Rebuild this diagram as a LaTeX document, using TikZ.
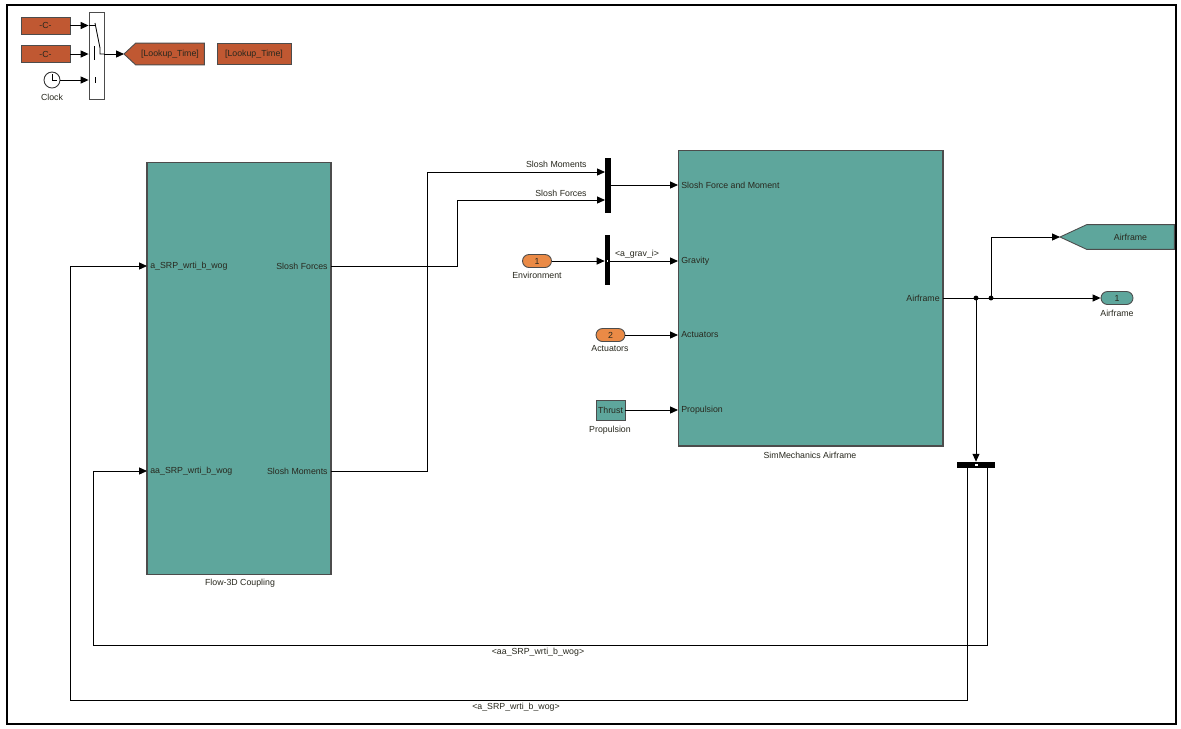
\documentclass[tikz,border=0pt]{standalone}
\usepackage{fontspec}
\setmainfont{Liberation Sans}
\usetikzlibrary{arrows.meta}
\definecolor{tealb}{RGB}{94,166,156}
\definecolor{simorange}{RGB}{192,88,50}
\definecolor{inorange}{RGB}{234,138,70}
\definecolor{txt}{RGB}{40,40,30}
\begin{document}
\begin{tikzpicture}[x=0.02cm,y=-0.02cm,
  every node/.style={font=\fontsize{5}{6}\selectfont, inner sep=0pt, text=txt},
  wire/.style={draw=black, line width=0.5pt},
  arr/.style={wire, -{Triangle[length=4.5pt,width=4pt]}},
  block/.style={draw=black!70, fill=tealb, line width=0.6pt},
  cbox/.style={draw=black!70, fill=simorange, line width=0.5pt},
  oval/.style={draw=black!70, line width=0.5pt, minimum width=0.58cm, minimum height=0.26cm, rounded corners=0.13cm},
  barblk/.style={fill=black},
  lbl/.style={text=txt}]
\useasboundingbox (0,0) rectangle (1181,728);
\fill[white] (0,0) rectangle (1181,728);
\draw[line width=1pt] (7,5) rectangle (1176,724);

% ---- top-left group
\node[cbox, minimum width=0.98cm, minimum height=0.34cm] (c1) at (45.5,25.5) {-C-};
\node[cbox, minimum width=0.98cm, minimum height=0.34cm] (c2) at (45.5,54) {-C-};
\node[draw=black!80, circle, minimum size=0.32cm, fill=white, line width=0.5pt] (clk) at (52,80) {};
\draw[line width=0.5pt] (clk.center) -- (52,74) (clk.center) -- (57,80);
\node[lbl] (clklbl) at (52,97) {Clock};
\node[draw=black!70, fill=white, minimum width=0.3cm, minimum height=1.74cm, line width=0.5pt] (sw) at (96.5,55.5) {};
\draw[arr] (c1.east) -- (sw.west |- c1.east);
\draw[arr] (c2.east) -- (sw.west |- c2.east);
\draw[arr] (clk.east) -- (sw.west |- clk.east);
% switch internals
\draw[line width=0.5pt] (89,25.5) -- (95,25.5) (95,23) -- (100,48) -- (100,54) -- (104,54);
\draw[line width=0.5pt] (94,46) -- (94,60);
\draw[line width=0.5pt] (95,77) -- (95,83);
\coordinate (g1tip) at (124,54);
\draw[arr] (sw.east |- c2.east) -- (g1tip);
\node[minimum width=1.36cm, minimum height=0.42cm] (g1) at (170,54) {};
\filldraw[fill=simorange, draw=black!70, line width=0.5pt] (g1.north east) -- (g1.south east) -- (g1.south west) -- (g1tip) -- (g1.north west) -- cycle;
\node (g1txt) at (g1.center) {[Lookup\_Time]};
\node[cbox, minimum width=1.48cm, minimum height=0.42cm] (f1) at (254,54) {[Lookup\_Time]};

% ---- Flow-3D Coupling
\node[block, minimum width=3.68cm, minimum height=8.26cm] (flow) at (239,368.5) {};
\node[lbl] (flowlbl) at (240,583) {Flow-3D Coupling};
\coordinate (fIn1) at (147,266);
\coordinate (fIn2) at (147,471);
\coordinate (fOut1) at (331,266);
\coordinate (fOut2) at (331,471);
\node[anchor=west] (pa1) at (150,266) {a\_SRP\_wrti\_b\_wog};
\node[anchor=west] (pa2) at (150,471) {aa\_SRP\_wrti\_b\_wog};
\node[anchor=east] (pb1) at (328,266) {Slosh Forces};
\node[anchor=east] (pb2) at (328,471) {Slosh Moments};

% ---- SimMechanics Airframe
\node[block, minimum width=5.3cm, minimum height=5.92cm] (sim) at (810.5,298) {};
\node[lbl] (simlbl) at (810,455) {SimMechanics Airframe};
\coordinate (sIn1) at (678,185);
\coordinate (sIn2) at (678,261);
\coordinate (sIn3) at (678,335);
\coordinate (sIn4) at (678,410);
\coordinate (sOut) at (943,298);
\node[anchor=west] (q1) at (681,185) {Slosh Force and Moment};
\node[anchor=west] (q2) at (681,261) {Gravity};
\node[anchor=west] (q3) at (681,335) {Actuators};
\node[anchor=west] (q4) at (681,410) {Propulsion};
\node[anchor=east] (q5) at (940,298) {Airframe};

% ---- mux of slosh signals
\node[barblk, minimum width=0.12cm, minimum height=1.1cm] (mux) at (608,185.5) {};
\coordinate (muxIn1) at (605,172);
\coordinate (muxIn2) at (605,200);
\draw[arr] (fOut1) -- ++(126,0) |- (muxIn2);
\draw[arr] (fOut2) -- ++(96,0) |- (muxIn1);
\node[anchor=east] (lm) at (587,164) {Slosh Moments};
\node[anchor=east] (lf) at (587,193) {Slosh Forces};
\draw[arr] (mux.east |- sIn1) -- (sIn1);

% ---- environment / gravity
\node[oval, fill=inorange] (env) at (537,261) {1};
\node[lbl] (envlbl) at (537,275) {Environment};
\node[barblk, minimum width=0.1cm, minimum height=1cm] (bs1) at (607.5,260) {};
\node[fill=white, draw=black, line width=0.3pt, minimum width=0.05cm, minimum height=0.07cm] (bs1sq) at (607.5,261) {};
\draw[arr] (env.east) -- (bs1.west |- env.east);
\draw[arr] (bs1.east |- sIn2) -- (sIn2);
\node (grav) at (637,254) {\textless a\_grav\_i\textgreater};

% ---- actuators
\node[oval, fill=inorange] (act) at (610.5,335) {2};
\node[lbl] (actlbl) at (610,349) {Actuators};
\draw[arr] (act.east) -- (sIn3);

% ---- propulsion
\node[draw=black!70, fill=tealb, line width=0.5pt, minimum width=0.58cm, minimum height=0.4cm] (thr) at (610.5,410) {Thrust};
\node[lbl] (thrlbl) at (610,430) {Propulsion};
\draw[arr] (thr.east) -- (sIn4);

% ---- outputs
\coordinate (j1) at (976,298);
\coordinate (j2) at (991,298);
\node[oval, fill=tealb, minimum width=0.64cm] (outp) at (1117,298) {1};
\node[lbl] (outlbl) at (1117,313) {Airframe};
\draw[wire] (sOut) -- (j2);
\draw[arr] (j2) -- (outp.west);
\coordinate (g2tip) at (1060,237);
\node[minimum width=1.74cm, minimum height=0.48cm] (g2) at (1130.5,237) {};
\filldraw[fill=tealb, draw=black!70, line width=0.5pt] (g2.north east) -- (g2.south east) -- (g2.south west) -- (g2tip) -- (g2.north west) -- cycle;
\node (g2txt) at (g2.center) {Airframe};
\draw[arr] (j2) |- (g2tip);

% ---- bus selector 2 and feedback
\node[barblk, minimum width=0.76cm, minimum height=0.12cm] (bs2) at (976,465) {};
\node[fill=white, draw=black, line width=0.3pt, minimum width=0.08cm, minimum height=0.06cm] (bs2sq) at (976,465) {};
\draw[arr] (j1) -- (bs2.north);
\fill (j1) circle[radius=1.4pt];
\fill (j2) circle[radius=1.4pt];
\coordinate (bs2L) at (967,468);
\coordinate (bs2R) at (987,468);
\draw[arr] (bs2R) |- (93,645) |- (fIn2);
\draw[arr] (bs2L) |- (70,700) |- (fIn1);
\node (fb1) at (538,652) {\textless aa\_SRP\_wrti\_b\_wog\textgreater};
\node (fb2) at (516,707) {\textless a\_SRP\_wrti\_b\_wog\textgreater};
\end{tikzpicture}
\end{document}
